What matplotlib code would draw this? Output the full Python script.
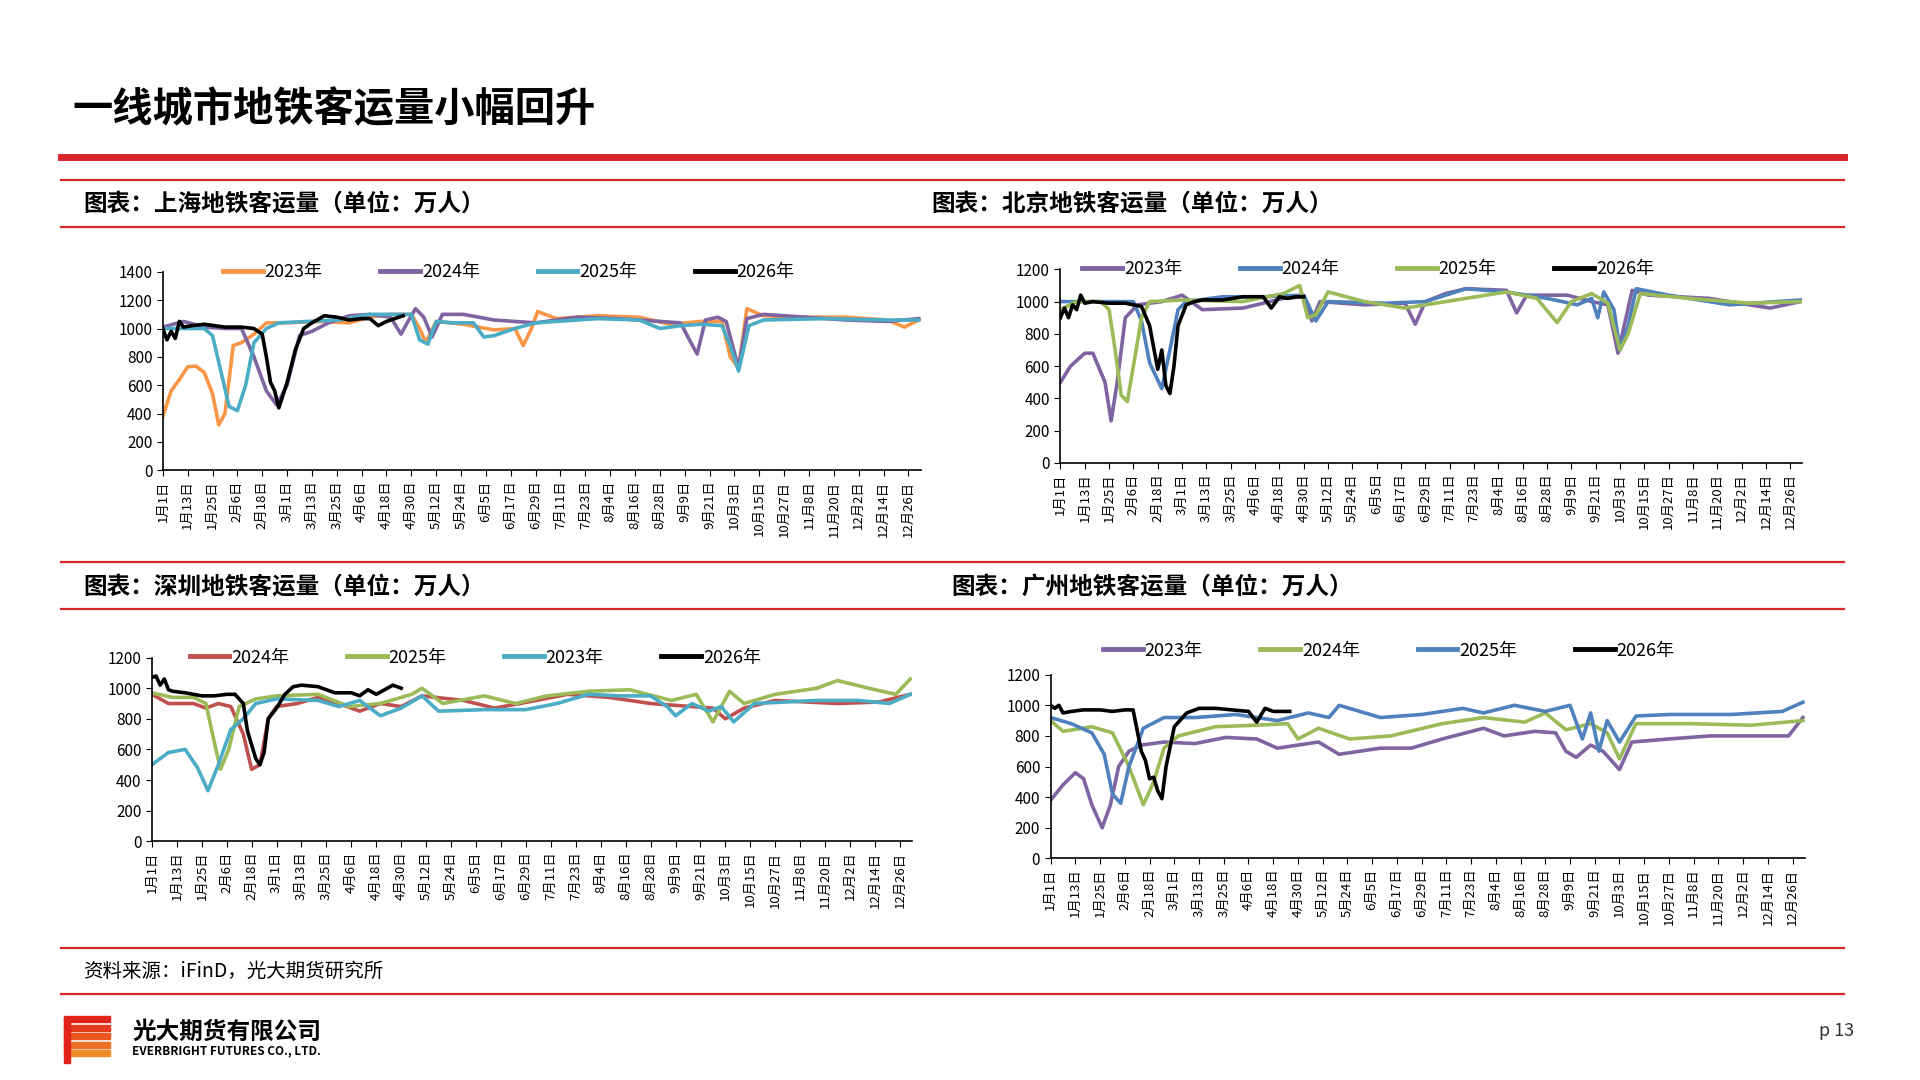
import matplotlib
matplotlib.use("Agg")
import matplotlib.pyplot as plt
from matplotlib.lines import Line2D
from matplotlib.patches import Rectangle
import numpy as np

plt.rcParams['font.family'] = ['Noto Sans CJK SC', 'DejaVu Sans']

tick_labels = ["1月1日","1月13日","1月25日","2月6日","2月18日","3月1日","3月13日","3月25日","4月6日","4月18日",
               "4月30日","5月12日","5月24日","6月5日","6月17日","6月29日","7月11日","7月23日","8月4日","8月16日",
               "8月28日","9月9日","9月21日","10月3日","10月15日","10月27日","11月8日","11月20日","12月2日","12月14日","12月26日"]

# ---- Shanghai ----
sh23_d = [0,4,8,12,16,20,24,27,30,34,38,44,50,60,75,90,100,110,120,124,127,132,145,160,170,174,178,181,190,210,230,245,260,270,274,278,282,290,310,330,350,358,365]
sh23_v = [380,560,640,730,735,690,540,320,400,880,900,960,1040,1040,1050,1040,1080,1100,1100,1000,900,1050,1030,990,1000,880,1000,1120,1070,1090,1080,1030,1050,1050,800,720,1140,1090,1080,1080,1060,1010,1060]
sh24_d = [0,10,20,30,38,44,50,55,60,66,72,80,90,100,110,115,118,122,126,130,135,145,160,170,180,200,220,240,250,255,258,262,268,272,278,282,290,310,330,350,365]
sh24_v = [1010,1050,1010,1000,1000,800,560,460,600,950,980,1040,1090,1100,1080,960,1040,1140,1080,940,1100,1100,1060,1050,1040,1080,1070,1050,1040,900,820,1060,1080,1050,720,1070,1100,1080,1060,1050,1070]
sh25_d = [0,10,20,24,28,32,36,40,44,50,56,70,85,100,115,120,124,128,132,140,150,155,160,170,180,190,210,230,240,250,260,270,274,278,283,290,320,350,365]
sh25_v = [1000,1000,1000,950,700,450,420,600,900,1000,1040,1050,1060,1100,1100,1100,920,890,1050,1040,1040,940,950,1000,1040,1050,1070,1060,1000,1020,1030,1020,880,700,1020,1060,1070,1060,1060]
sh26_d = [0,2,4,6,8,10,14,20,30,38,44,48,50,52,54,56,60,64,68,72,78,84,90,96,100,104,108,112,116]
sh26_v = [1000,920,980,930,1050,1010,1020,1030,1010,1010,1000,960,800,620,560,440,620,850,1000,1040,1090,1080,1060,1070,1070,1020,1050,1070,1090]

# ---- Beijing ----
bj23_d = [0,5,12,16,22,25,28,32,38,50,60,70,90,110,120,124,128,150,170,175,180,190,200,220,225,230,250,262,270,275,282,290,320,340,350,365]
bj23_v = [500,600,680,680,500,260,500,900,980,1000,1040,950,960,1020,1030,880,1000,980,990,860,1000,1050,1080,1070,930,1040,1040,1000,980,680,1070,1040,1020,980,960,1000]
bj24_d = [0,20,36,40,44,50,54,58,62,80,100,120,126,132,160,180,200,220,240,255,262,265,268,273,276,280,284,300,330,365]
bj24_v = [1000,1000,1000,880,620,460,700,950,1000,1030,1030,1040,880,1000,990,1000,1080,1060,1020,980,1020,900,1060,950,700,850,1080,1040,980,1010]
bj25_d = [0,8,20,24,27,30,33,36,40,44,60,90,110,118,122,126,132,150,170,190,220,235,245,252,262,270,276,280,286,310,340,365]
bj25_v = [950,1000,1000,950,700,420,380,600,900,1000,1010,1000,1050,1100,900,920,1060,1000,960,1000,1060,1020,870,1000,1050,990,700,800,1050,1020,990,1000]
bj26_d = [0,2,4,6,8,10,12,16,24,32,40,44,48,50,52,54,56,58,62,66,70,80,90,100,104,108,112,116,120]
bj26_v = [900,960,900,980,950,1040,990,1000,990,990,970,850,580,700,480,430,600,850,980,1000,1010,1010,1030,1030,960,1030,1020,1030,1030]

# ---- Shenzhen ----
sz24_d = [0,8,20,26,32,38,44,48,52,56,60,70,80,90,100,110,120,130,150,165,185,200,220,240,260,270,276,285,300,330,350,365]
sz24_v = [960,900,900,870,900,880,700,470,500,800,880,900,940,900,850,900,880,950,920,870,920,960,940,900,880,870,800,870,920,900,910,960]
sz25_d = [0,10,20,26,30,33,37,42,50,60,80,95,110,125,130,140,160,175,190,210,230,250,262,270,278,285,300,320,330,345,358,365]
sz25_v = [970,940,940,900,650,470,600,880,930,950,960,880,900,960,1000,900,950,900,950,980,990,920,960,780,980,900,960,1000,1050,1000,960,1060]
sz23_d = [0,8,16,22,27,32,38,44,50,60,80,90,100,110,120,130,138,160,180,195,210,225,240,248,252,260,268,274,280,290,320,340,355,365]
sz23_v = [500,580,600,480,330,500,730,800,900,930,920,880,920,820,870,950,850,860,860,900,960,950,950,880,820,900,850,880,780,900,920,920,900,960]
sz26_d = [0,2,4,6,8,10,16,24,30,36,40,44,46,48,50,52,54,56,60,64,68,72,80,88,96,100,104,108,112,116,120]
sz26_v = [1070,1080,1020,1060,990,980,970,950,950,960,960,900,720,630,540,500,580,800,870,960,1010,1020,1010,970,970,950,990,960,990,1020,1000]

# ---- Guangzhou ----
gz23_d = [0,6,12,16,20,25,29,33,38,44,55,70,85,100,110,130,140,160,175,190,210,220,235,245,250,255,262,268,276,282,300,320,345,358,365]
gz23_v = [380,480,560,520,350,200,350,600,700,740,760,750,790,780,720,760,680,720,720,780,850,800,830,820,700,660,740,700,580,760,780,800,800,800,920]
gz24_d = [0,6,20,30,38,45,50,55,62,80,100,115,120,130,145,165,190,210,230,240,250,262,270,276,284,310,340,365]
gz24_v = [900,830,860,820,600,350,500,720,800,860,870,880,780,850,780,800,880,920,890,950,840,880,820,650,880,880,870,900]
gz25_d = [0,10,20,26,30,34,38,45,55,70,90,110,125,135,140,160,180,200,210,225,240,252,258,262,266,270,276,284,300,330,355,365]
gz25_v = [920,880,820,680,420,360,600,850,920,920,940,900,950,920,1000,920,940,980,950,1000,960,1000,780,950,700,900,760,930,940,940,960,1020]
gz26_d = [0,2,4,6,10,16,24,30,36,40,44,46,48,50,52,54,56,60,66,72,80,88,96,100,104,108,112,116]
gz26_v = [1000,980,1000,950,960,970,970,960,970,970,700,640,520,530,440,390,600,860,950,980,980,970,960,890,980,960,960,960]

ORANGE, PURPLE, TEAL, BLUE, GREEN, RED = "#F79646", "#8064A2", "#4BACC6", "#4F81BD", "#9BBB59", "#C0504D"
BRED = "#D9262B"

fig = plt.figure(figsize=(19.2, 10.8), dpi=100)

def hline(y, x0=61/1920, x1=1844/1920, lw=1.6, c=BRED):
    fig.add_artist(Line2D([x0, x1], [1 - y/1080, 1 - y/1080], color=c, lw=lw, transform=fig.transFigure))

fig.text(73/1920, 1 - 110/1080, "一线城市地铁客运量小幅回升", fontsize=29, fontweight='bold', va='center', ha='left')
hline(157, lw=5)
for y in [180, 226.5, 562, 608.6, 947.8, 994.3]:
    hline(y)
fig.text(83/1920, 1-203/1080, "图表：上海地铁客运量（单位：万人）", fontsize=17, fontweight='bold', va='center')
fig.text(931/1920, 1-203/1080, "图表：北京地铁客运量（单位：万人）", fontsize=17, fontweight='bold', va='center')
fig.text(83/1920, 1-586.5/1080, "图表：深圳地铁客运量（单位：万人）", fontsize=17, fontweight='bold', va='center')
fig.text(951/1920, 1-586.5/1080, "图表：广州地铁客运量（单位：万人）", fontsize=17, fontweight='bold', va='center')
fig.text(83/1920, 1-971/1080, "资料来源：iFinD，光大期货研究所", fontsize=14, style='italic', va='center')
fig.text(1837/1920, 1-1031/1080, "p 13", fontsize=13, va='center', ha='center', color='#333333')

# logo
for i, c in enumerate(["#E2231A", "#E53A1E", "#EA5520", "#EE7023", "#F28C26"]):
    fig.add_artist(Rectangle((64/1920, 1 - (1022 + i*8.5)/1080), 46/1920, 6/1080, color=c, transform=fig.transFigure))
fig.add_artist(Rectangle((64/1920, 1-1063/1080), 6/1920, 45/1080, color="#E2231A", transform=fig.transFigure))
fig.text(132/1920, 1-1032/1080, "光大期货有限公司", fontsize=17, fontweight='bold', va='center')
fig.text(132/1920, 1-1051/1080, "EVERBRIGHT FUTURES CO., LTD.", fontsize=8.5, fontweight='bold', va='center')

ticks = np.arange(0, 361, 12)

def panel(rect, series, ymax, ystep, leg_anchor):
    ax = fig.add_axes(rect)
    for d, v, c, lab in series:
        ax.plot(d, v, color=c, lw=2.6, label=lab, solid_joinstyle='round')
    ax.set_xlim(0, 366)
    ax.set_ylim(0, ymax)
    ax.set_yticks(np.arange(0, ymax + 1, ystep))
    ax.set_xticks(ticks)
    ax.set_xticklabels(tick_labels, rotation=90, fontsize=9.5)
    ax.tick_params(axis='y', labelsize=11, length=4, direction='out')
    ax.tick_params(axis='x', length=4, direction='out')
    for s in ['top', 'right']:
        ax.spines[s].set_visible(False)
    for s in ['left', 'bottom']:
        ax.spines[s].set_color('black')
        ax.spines[s].set_linewidth(1.2)
    leg = ax.legend(loc='center left', bbox_to_anchor=leg_anchor, ncol=4, frameon=False, fontsize=13,
                    handlelength=2.2, columnspacing=3.2, handletextpad=0.1, borderaxespad=0)
    for h in leg.get_lines():
        h.set_linewidth(3.5)
    return ax

panel([0.0848, 0.5646, 0.3948, 0.1837],
      [(sh23_d, sh23_v, ORANGE, "2023年"), (sh24_d, sh24_v, PURPLE, "2024年"),
       (sh25_d, sh25_v, TEAL, "2025年"), (sh26_d, sh26_v, "black", "2026年")],
      1400, 200, (0.07, 1.0))
panel([0.5523, 0.5714, 0.3865, 0.1792],
      [(bj23_d, bj23_v, PURPLE, "2023年"), (bj24_d, bj24_v, BLUE, "2024年"),
       (bj25_d, bj25_v, GREEN, "2025年"), (bj26_d, bj26_v, "black", "2026年")],
      1200, 200, (0.02, 1.0))
panel([0.0791, 0.2211, 0.3961, 0.1700],
      [(sz24_d, sz24_v, RED, "2024年"), (sz25_d, sz25_v, GREEN, "2025年"),
       (sz23_d, sz23_v, TEAL, "2023年"), (sz26_d, sz26_v, "black", "2026年")],
      1200, 200, (0.04, 1.0))
panel([0.5472, 0.2052, 0.3929, 0.1701],
      [(gz23_d, gz23_v, PURPLE, "2023年"), (gz24_d, gz24_v, GREEN, "2024年"),
       (gz25_d, gz25_v, BLUE, "2025年"), (gz26_d, gz26_v, "black", "2026年")],
      1200, 200, (0.06, 1.13))

fig.savefig("out.png", dpi=100)
